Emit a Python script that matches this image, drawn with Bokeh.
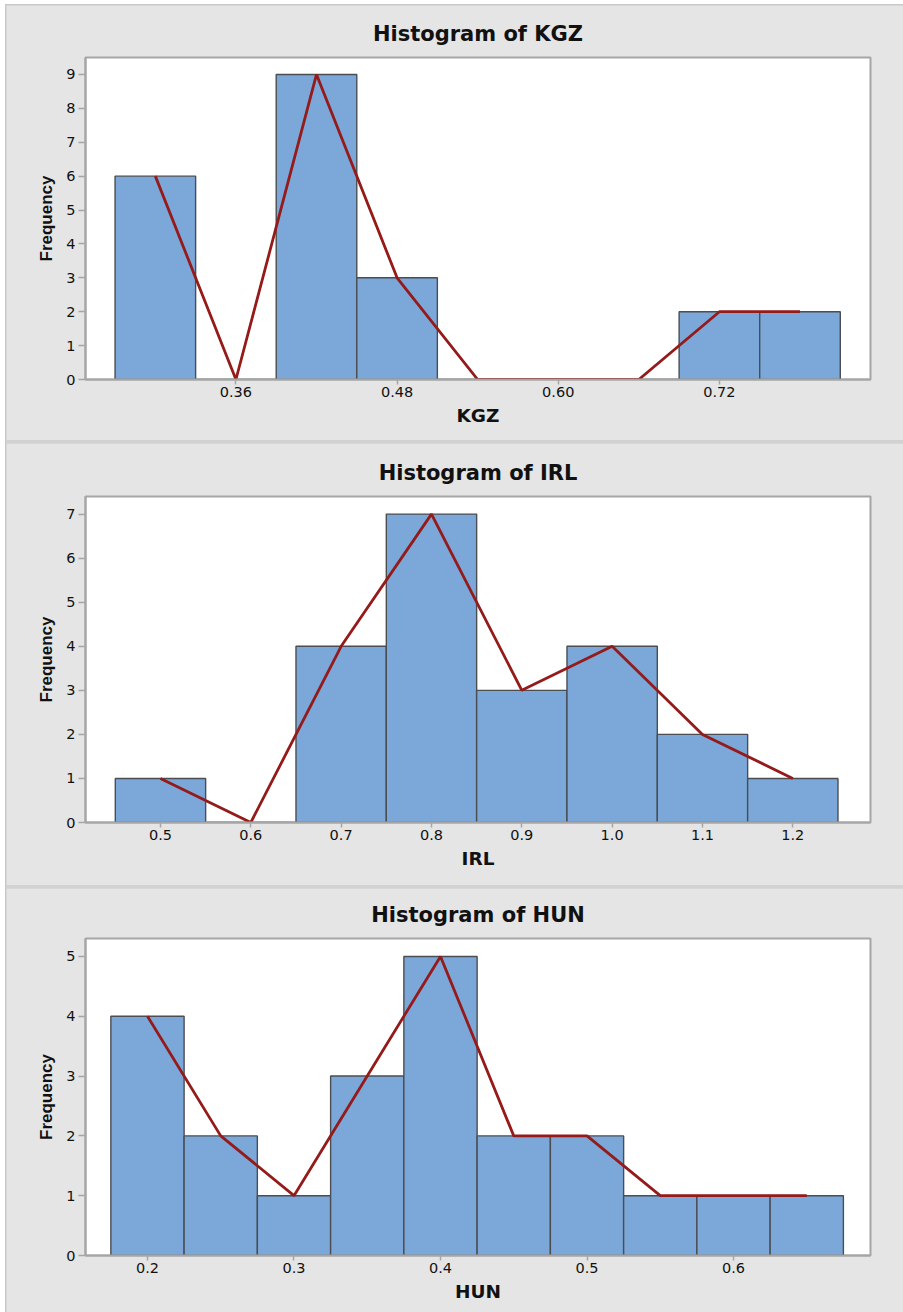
from bokeh.plotting import figure
from bokeh.layouts import column
from bokeh.models import Range1d, FixedTicker, PrintfTickFormatter
from bokeh.embed import file_html
from bokeh.resources import INLINE

# ---- data ----
kgz_mid = [0.30, 0.36, 0.42, 0.48, 0.54, 0.60, 0.66, 0.72, 0.78]
kgz_counts = [6, 0, 9, 3, 0, 0, 0, 2, 2]
kgz_width = 0.06
kgz_xticks = [0.36, 0.48, 0.60, 0.72]

irl_mid = [0.5, 0.6, 0.7, 0.8, 0.9, 1.0, 1.1, 1.2]
irl_counts = [1, 0, 4, 7, 3, 4, 2, 1]
irl_width = 0.1
irl_xticks = [0.5, 0.6, 0.7, 0.8, 0.9, 1.0, 1.1, 1.2]

hun_mid = [0.20, 0.25, 0.30, 0.35, 0.40, 0.45, 0.50, 0.55, 0.60, 0.65]
hun_counts = [4, 2, 1, 3, 5, 2, 2, 1, 1, 1]
hun_width = 0.05
hun_xticks = [0.2, 0.3, 0.4, 0.5, 0.6]

FONT = "DejaVu Sans"
YFONT = "Liberation Sans"
BAR = "#7ba7d9"
EDGE = "#4a4d52"
LINE = "#951a1a"
PANEL = "#e5e5e5"
FRAME = "#a6a6a6"


def make(name, mids, counts, width, xticks, xfmt, xr, ymax, yticks, h, top, bottom):
    p = figure(width=897, height=h, output_backend="svg", toolbar_location=None,
               x_range=Range1d(*xr), y_range=Range1d(0, ymax),
               min_border_left=79, min_border_right=33,
               min_border_top=top, min_border_bottom=bottom)
    p.title.text = "Histogram of " + name
    p.title.align = "center"
    p.title.text_font = FONT
    p.title.text_font_size = "21px"
    p.title.text_font_style = "bold"
    p.title.text_color = "#111111"
    p.title.standoff = 24
    p.border_fill_color = PANEL
    p.background_fill_color = "white"
    p.outline_line_color = FRAME
    p.outline_line_width = 2
    p.xgrid.visible = False
    p.ygrid.visible = False

    left = [m - width / 2 for m in mids]
    right = [m + width / 2 for m in mids]
    p.quad(left=left, right=right, bottom=0, top=counts,
           fill_color=BAR, line_color=EDGE, line_width=1.4)
    p.line(mids, counts, line_color=LINE, line_width=2.8)

    for ax in (p.xaxis[0], p.yaxis[0]):
        ax.axis_line_color = FRAME
        ax.axis_line_width = 2
        ax.major_tick_line_color = FRAME
        ax.major_tick_line_width = 1.5
        ax.major_tick_in = 0
        ax.minor_tick_line_color = None
        ax.major_label_text_font = FONT
        ax.major_label_text_font_size = "14.5px"
        ax.major_label_text_color = "#111111"
        ax.axis_label_text_font_style = "bold"
        ax.axis_label_text_color = "#111111"

    p.xaxis.ticker = FixedTicker(ticks=xticks)
    p.xaxis.formatter = PrintfTickFormatter(format=xfmt)
    p.xaxis.axis_label = name
    p.xaxis.axis_label_text_font = FONT
    p.xaxis.axis_label_text_font_size = "18.5px"
    p.xaxis.major_tick_out = 5
    p.xaxis.major_label_standoff = 2
    p.xaxis.axis_label_standoff = 5

    p.yaxis.ticker = FixedTicker(ticks=yticks)
    p.yaxis.axis_label = "Frequency"
    p.yaxis.axis_label_text_font = YFONT
    p.yaxis.axis_label_text_font_size = "17px"
    p.yaxis.major_tick_out = 7
    p.yaxis.major_label_standoff = 3
    p.yaxis.axis_label_standoff = 7
    return p


p1 = make("KGZ", kgz_mid, kgz_counts, kgz_width, kgz_xticks, "%.2f",
          (0.248, 0.8325), 9.5, list(range(0, 10)), 435, 52, 61)
p2 = make("IRL", irl_mid, irl_counts, irl_width, irl_xticks, "%.1f",
          (0.417, 1.286), 7.4, list(range(0, 8)), 442, 53, 63)
p3 = make("HUN", hun_mid, hun_counts, hun_width, hun_xticks, "%.1f",
          (0.1577, 0.6935), 5.3, list(range(0, 6)), 424, 50, 57)

layout = column(p1, p2, p3, spacing=3, margin=(4, 0, 0, 5),
                styles={"background-color": "#d2d2d2",
                        "border-top": "1px solid #c8c8c8",
                        "border-left": "1px solid #c8c8c8"})

open("out.html", "w").write(file_html(layout, INLINE))
